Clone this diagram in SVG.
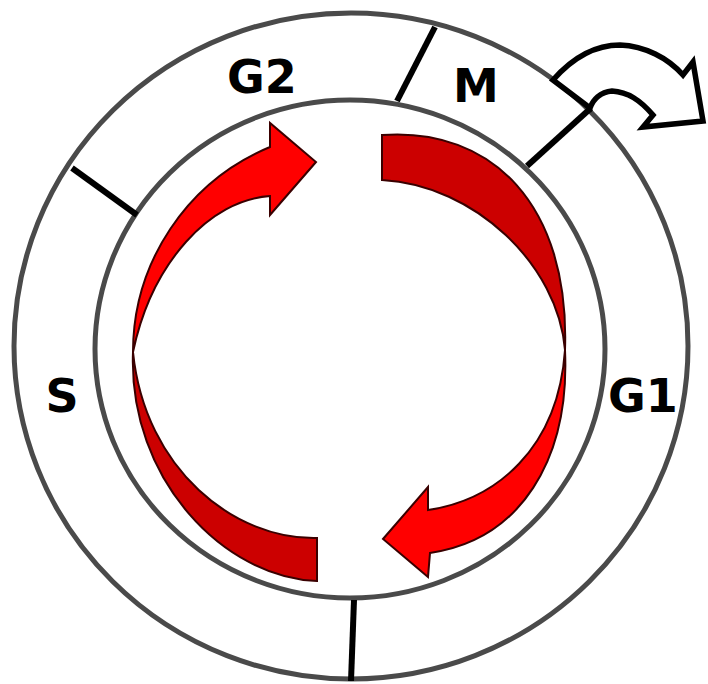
<svg xmlns="http://www.w3.org/2000/svg" width="708" height="684" viewBox="0 0 708 684">
  <style>
    .ring { fill: none; stroke: #4a4a4a; stroke-width: 5; }
    .div { stroke: #000; stroke-width: 6; fill: none; }
    .bright { fill: #ff0000; stroke: #3a0000; stroke-width: 2; stroke-linejoin: miter; }
    .dark { fill: #cc0000; stroke: #3a0000; stroke-width: 2; }
    .lbl { font-family: "DejaVu Sans", Verdana, sans-serif; font-weight: bold; font-size: 46px; fill: #000; text-anchor: middle; }
    .exit { fill: #fff; stroke: #000; stroke-width: 5.5; stroke-linejoin: miter; }
  </style>
  <rect width="708" height="684" fill="#fff"/>

  <g id="rings">
    <ellipse class="ring" cx="351" cy="346" rx="337" ry="333"/>
    <ellipse class="ring" cx="350" cy="349" rx="255" ry="249"/>
  </g>

  <g id="cycle-arrows">
    <!-- top-left bright arrow -->
    <path class="bright" d="M133,352 A222,222 0 0 1 270,147 L270,123 L316,162 L270,215 L270,196 C210,200 152,262 133,352 Z"/>
    <!-- bottom-left dark tail -->
    <path class="dark" d="M133,352 C145,470 235,540 317,538 L317,581 C225,578 128,480 133,352 Z"/>
    <!-- top-right dark tail -->
    <path class="dark" d="M382,135 C492,127 570,205 565,350 C558,265 475,185 382,180 Z"/>
    <!-- bottom-right bright arrow -->
    <path class="bright" d="M565,350 C570,460 520,540 430,553 L428,577 L383,539 L428,487 L428,510 C495,500 558,450 565,350 Z"/>
  </g>

  <g id="connectors">
    <line class="div" x1="435" y1="27" x2="397" y2="101"/>
    <line class="div" x1="72" y1="168" x2="137" y2="215"/>
    <line class="div" x1="354" y1="600" x2="351" y2="681"/>
    <line class="div" x1="527" y1="166" x2="591" y2="108"/>
  </g>

  <g id="exit-arrow">
    <path class="exit" d="M553,80 C575,55 598,45 620,45 C645,46 668,58 683,75 L693,62 L703,121 L643,127 L653,115 C640,100 628,92 612,91 C600,92 593,100 590,108 Z"/>
  </g>

  <g id="label-G2"><text class="lbl" x="262" y="93">G2</text></g>
  <g id="label-M"><text class="lbl" x="476" y="102">M</text></g>
  <g id="label-S"><text class="lbl" x="62" y="412">S</text></g>
  <g id="label-G1"><text class="lbl" x="643" y="412">G1</text></g>
</svg>
